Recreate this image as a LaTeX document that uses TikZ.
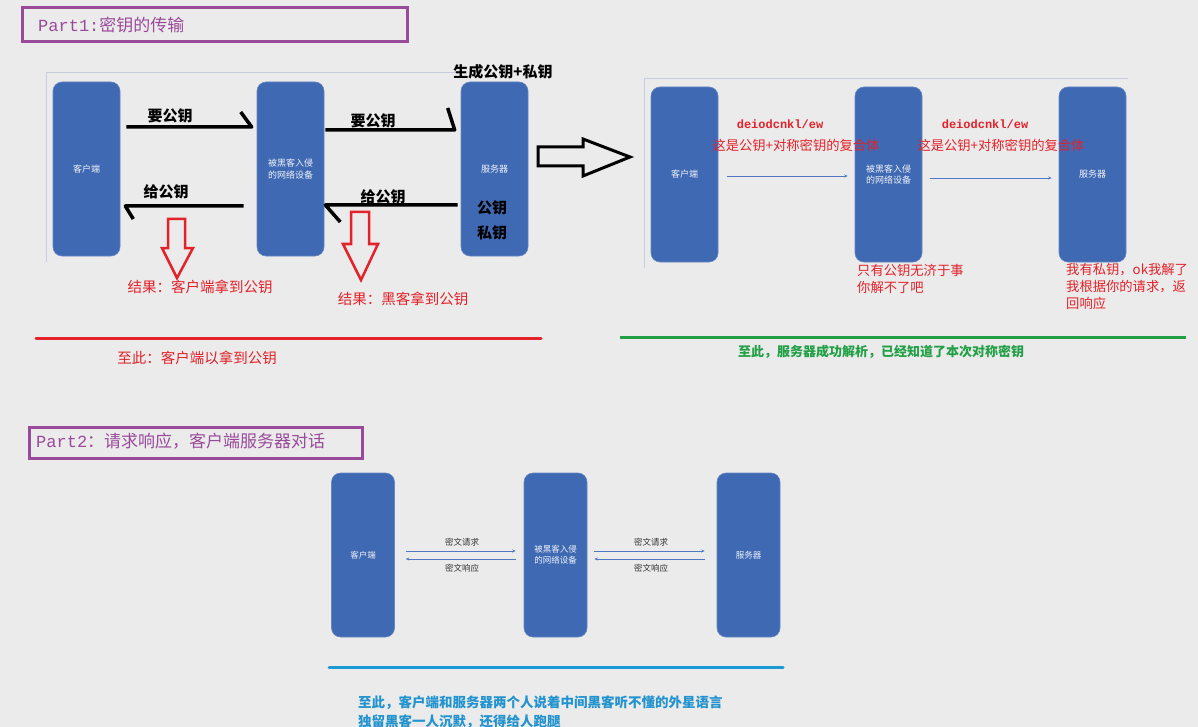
\documentclass[tikz,border=0pt]{standalone}
\usepackage{fontspec}
\setmainfont{Noto Sans CJK SC}
\newfontfamily\monof{Liberation Mono}
\usetikzlibrary{arrows.meta,calc}
\definecolor{bg}{HTML}{EBEBEB}
\definecolor{boxblue}{HTML}{3F69B3}
\definecolor{ppl}{HTML}{9A4A9A}
\definecolor{rd}{HTML}{E3222A}
\definecolor{grn}{HTML}{21A046}
\definecolor{lblue}{HTML}{1B9AD6}
\definecolor{tblue}{HTML}{2293CF}
\definecolor{frm}{HTML}{C7CDDF}
\definecolor{thinarr}{HTML}{5079C4}
\tikzset{
  bbox/.style={rectangle, rounded corners=9, fill=boxblue, draw=boxblue!80!white, line width=0.6,
    minimum width=67, minimum height=174, text=white!92!boxblue, inner sep=0,
    font=\fontsize{9}{11.5}\selectfont, align=center},
  sbox/.style={bbox, minimum width=63, minimum height=164, font=\fontsize{8.5}{11}\selectfont},
  titlebox/.style={draw=ppl, line width=3, rectangle, inner sep=0},
  titletext/.style={text=ppl, font=\fontsize{17}{20}\selectfont, anchor=west, inner sep=0},
  hand/.style={line width=3.5, black, line join=round},
  blabel/.style={font=\fontsize{15}{18}\selectfont\bfseries, text=black, inner sep=0},
  rtext/.style={font=\fontsize{14.5}{18}\selectfont, text=rd, inner sep=0},
  rsmall/.style={font=\fontsize{13.3}{17}\selectfont, text=rd, inner sep=0},
  hollowred/.style={draw=rd, line width=2.5, line join=miter},
  frame/.style={draw=frm, line width=0.8},
  thinarrow/.style={draw=thinarr, line width=0.7, -{Stealth[length=3.5pt,width=3pt]}},
  glabel/.style={font=\fontsize{8.5}{10}\selectfont, text=black!80, inner sep=0},
}
\begin{document}
\begin{tikzpicture}[x=1pt,y=-1pt]
\fill[bg] (0,0) rectangle (1198,727);
\useasboundingbox (0,0) rectangle (1198,727);

% ---------- Part 1 title
\node[titlebox, minimum width=385, minimum height=34] (p1) at (214.5,25) {};
\node[titletext] (p1t) at (38,25) {{\monof Part1:}密钥的传输};

% ---------- left group
\draw[frame] (455,72) -- (46,72) -- (46,262);
\node[bbox] (c1) at (86.5,169) {客户端};
\node[bbox] (h1) at (290.5,169) {被黑客入侵\\的网络设备};
\node[bbox] (s1) at (494.5,169) {服务器};

\node[blabel] (gen) at (503,72) {生成公钥+私钥};
\node[blabel] (pk) at (492,208) {公钥};
\node[blabel] (sk) at (492,233) {私钥};

\coordinate (a1s) at ([shift={(6,-42)}]c1.east);
\coordinate (a1e) at ([shift={(-5,-42)}]h1.west);
\draw[hand] (a1s) -- (a1e) -- ++(-11,-15);
\node[blabel] (l1) at (170,116) {要公钥};

\coordinate (a2s) at ([shift={(1,-39)}]h1.east);
\coordinate (a2e) at ([shift={(-6,-39)}]s1.west);
\draw[hand] (a2s) -- (a2e) -- ++(-7,-22);
\node[blabel] (l2) at (373,121) {要公钥};

\coordinate (a3s) at ([shift={(-13,37)}]h1.west);
\coordinate (a3e) at ([shift={(5,37)}]c1.east);
\draw[hand] (a3s) -- (a3e) -- ++(8,13);
\node[blabel] (l3) at (166,192) {给公钥};

\coordinate (a4s) at ([shift={(-3,36)}]s1.west);
\coordinate (a4e) at ([shift={(1,36)}]h1.east);
\draw[hand] (a4s) -- (a4e) -- ++(15,17);
\node[blabel] (l4) at (383,197) {给公钥};

\draw[hollowred] (168,219) -- (185,219) -- (185,248) -- (193,248) -- (177,278) -- (162,248) -- (168,248) -- cycle;
\draw[hollowred] (351,212) -- (369,212) -- (369,244) -- (378,244) -- (361,280) -- (343,244) -- (351,244) -- cycle;
\node[rtext] (r1) at (200,287) {结果：客户端拿到公钥};
\node[rtext] (r2) at (403,299) {结果：黑客拿到公钥};

\draw[rd, line width=3, line cap=round] (36,338) -- (541,338);
\node[rtext] (sum1) at (197,358) {至此：客户端以拿到公钥};

% big hollow arrow
\draw[black, line width=3] (538,147) -- (583,147) -- (583,139) -- (630,157) -- (583,176) -- (583,166) -- (538,166) -- cycle;

% ---------- right group
\draw[frame] (1128,78) -- (644,78) -- (644,268);
\node[bbox, minimum height=175] (c2) at (684.5,174.5) {客户端};
\node[bbox, minimum height=175] (h2) at (888.5,174.5) {被黑客入侵\\的网络设备};
\node[bbox, minimum height=175] (s2) at (1092.5,174.5) {服务器};

\draw[thinarrow] ([shift={(9,1.5)}]c2.east) -- ([shift={(-7,1.5)}]h2.west);
\draw[thinarrow] ([shift={(8,3.5)}]h2.east) -- ([shift={(-7,3.5)}]s2.west);

\node[rsmall, font=\fontsize{12}{14}\monof\bfseries] (k1) at (780,124) {deiodcnkl/ew};
\node[rsmall] (k1b) at (796,145) {这是公钥+对称密钥的复合体};
\node[rsmall, font=\fontsize{12}{14}\monof\bfseries] (k2) at (985,124) {deiodcnkl/ew};
\node[rsmall] (k2b) at (1001,145) {这是公钥+对称密钥的复合体};

\node[rsmall, anchor=north west, align=left] (n1) at (857,264) {只有公钥无济于事\\你解不了吧};
\node[rsmall, anchor=north west, align=left] (n2) at (1066,263) {我有私钥，ok我解了\\我根据你的请求，返\\回响应};

\draw[grn, line width=3] (620,337) -- (1186,337);
\node[font=\fontsize{13}{16}\selectfont\bfseries, text=grn, inner sep=0] (sum2) at (881,352) {至此，服务器成功解析，已经知道了本次对称密钥};

% ---------- Part 2
\node[titlebox, minimum width=333, minimum height=31] (p2) at (195.5,442.5) {};
\node[titletext] (p2t) at (36,441) {{\monof Part2}：请求响应，客户端服务器对话};

\node[sbox] (c3) at (363,555) {客户端};
\node[sbox] (h3) at (555.5,555) {被黑客入侵\\的网络设备};
\node[sbox] (s3) at (748.5,555) {服务器};

\draw[thinarrow] ([shift={(11,-4)}]c3.east) -- ([shift={(-8,-4)}]h3.west);
\draw[thinarrow] ([shift={(-8,4)}]h3.west) -- ([shift={(11,4)}]c3.east);
\draw[thinarrow] ([shift={(7,-4)}]h3.east) -- ([shift={(-12,-4)}]s3.west);
\draw[thinarrow] ([shift={(-12,4)}]s3.west) -- ([shift={(7,4)}]h3.east);
\node[glabel] (m1) at (462,542) {密文请求};
\node[glabel] (m2) at (462,568) {密文响应};
\node[glabel] (m3) at (651,542) {密文请求};
\node[glabel] (m4) at (651,568) {密文响应};

\draw[lblue, line width=3, line cap=round] (329,667) -- (783,667);
\node[font=\fontsize{13.5}{19}\selectfont\bfseries, text=tblue, anchor=west, align=left, inner sep=0] (sum3) at (358,712.5) {至此，客户端和服务器两个人说着中间黑客听不懂的外星语言\\独留黑客一人沉默，还得给人跑腿};
\end{tikzpicture}
\end{document}
